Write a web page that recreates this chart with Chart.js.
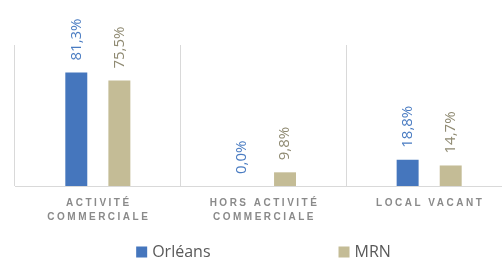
<!DOCTYPE html>
<html>
<head>
<meta charset="utf-8">
<script src="https://cdn.jsdelivr.net/npm/chart.js@4.4.0/dist/chart.umd.min.js"></script>
<style>
    html, body { margin: 0; padding: 0; background: #ffffff; overflow: hidden; }
    #wrap { width: 512px; height: 259px; position: relative; }
</style>
</head>
<body>
<div id="wrap"><canvas id="chart"></canvas></div>
<script>
// Chart data
const categories = [['ACTIVITÉ', 'COMMERCIALE'], ['HORS ACTIVITÉ', 'COMMERCIALE'], ['LOCAL VACANT']];
const orleansValues = [81.3, 0.0, 18.8];
const mrnValues = [75.5, 9.8, 14.7];
const seriesLabels = ['Orléans', 'MRN'];

const barColors = ['#4576bd', '#c4bc96'];
const labelColors = ['#4a7cc2', '#8f8a72'];

/**
 * Format value as French percentage (81,3%)
 */
function formatPercent(v) {
    return v.toFixed(1).replace('.', ',') + '%';
}

// Rotated value labels above each bar
const valueLabelsPlugin = {
    id: 'valueLabels',
    afterDatasetsDraw(chart) {
        const ctx = chart.ctx;
        ctx.save();
        ctx.font = '15px "Open Sans", sans-serif';
        ctx.textAlign = 'left';
        ctx.textBaseline = 'middle';
        chart.data.datasets.forEach((ds, i) => {
            const meta = chart.getDatasetMeta(i);
            meta.data.forEach((bar, j) => {
                ctx.save();
                ctx.translate(bar.x, bar.y - 12);
                ctx.rotate(-Math.PI / 2);
                ctx.fillStyle = labelColors[i];
                ctx.fillText(formatPercent(ds.data[j]), 0, 0);
                ctx.restore();
            });
        });
        ctx.restore();
    }
};

// Letter-spaced category labels and a wide legend
const labelsAndLegendPlugin = {
    id: 'labelsAndLegend',
    afterDraw(chart) {
        const ctx = chart.ctx;
        const xScale = chart.scales.x;
        ctx.save();
        ctx.font = 'bold 10px "Liberation Sans", sans-serif';
        ctx.letterSpacing = '2.5px';
        ctx.fillStyle = '#8a8a8a';
        ctx.textAlign = 'center';
        ctx.textBaseline = 'middle';
        categories.forEach((lines, i) => {
            const x = xScale.getPixelForTick(i) + 1;
            lines.forEach((line, k) => {
                ctx.fillText(line, x, 203 + k * 14);
            });
        });
        ctx.letterSpacing = '0px';

        // legend
        ctx.font = '16px "Open Sans", sans-serif';
        ctx.textAlign = 'left';
        const box = 11;
        const gap = 128;
        const w0 = box + 5 + ctx.measureText(seriesLabels[0]).width;
        const w1 = box + 5 + ctx.measureText(seriesLabels[1]).width;
        const total = w0 + gap + w1;
        const center = (chart.chartArea.left + chart.chartArea.right) / 2;
        let x = center - total / 2;
        const y = 252;
        seriesLabels.forEach((label, i) => {
            ctx.fillStyle = barColors[i];
            ctx.fillRect(x, y - box / 2, box, box);
            ctx.fillStyle = '#595959';
            ctx.fillText(label, x + box + 5, y);
            x += (i === 0 ? w0 : w1) + gap;
        });
        ctx.restore();
    }
};

const ctx = document.getElementById('chart').getContext('2d');
new Chart(ctx, {
    type: 'bar',
    data: {
        labels: categories,
        datasets: [
            {
                label: seriesLabels[0],
                data: orleansValues,
                backgroundColor: barColors[0],
                categoryPercentage: 0.52,
                barPercentage: 0.51
            },
            {
                label: seriesLabels[1],
                data: mrnValues,
                backgroundColor: barColors[1],
                categoryPercentage: 0.52,
                barPercentage: 0.51
            }
        ]
    },
    options: {
        responsive: true,
        maintainAspectRatio: false,
        animation: false,
        layout: {
            padding: { left: 15, right: 0, top: 45, bottom: 0 }
        },
        plugins: {
            legend: { display: false },
            tooltip: { enabled: false }
        },
        scales: {
            x: {
                offset: true,
                grid: {
                    offset: true,
                    color: '#d9d9d9',
                    lineWidth: 1,
                    drawTicks: false
                },
                border: { color: '#d9d9d9', width: 1 },
                ticks: { display: false },
                afterFit(scale) {
                    scale.height = 73;
                }
            },
            y: {
                display: false,
                min: 0,
                max: 101
            }
        }
    },
    plugins: [valueLabelsPlugin, labelsAndLegendPlugin]
});
</script>
</body>
</html>
